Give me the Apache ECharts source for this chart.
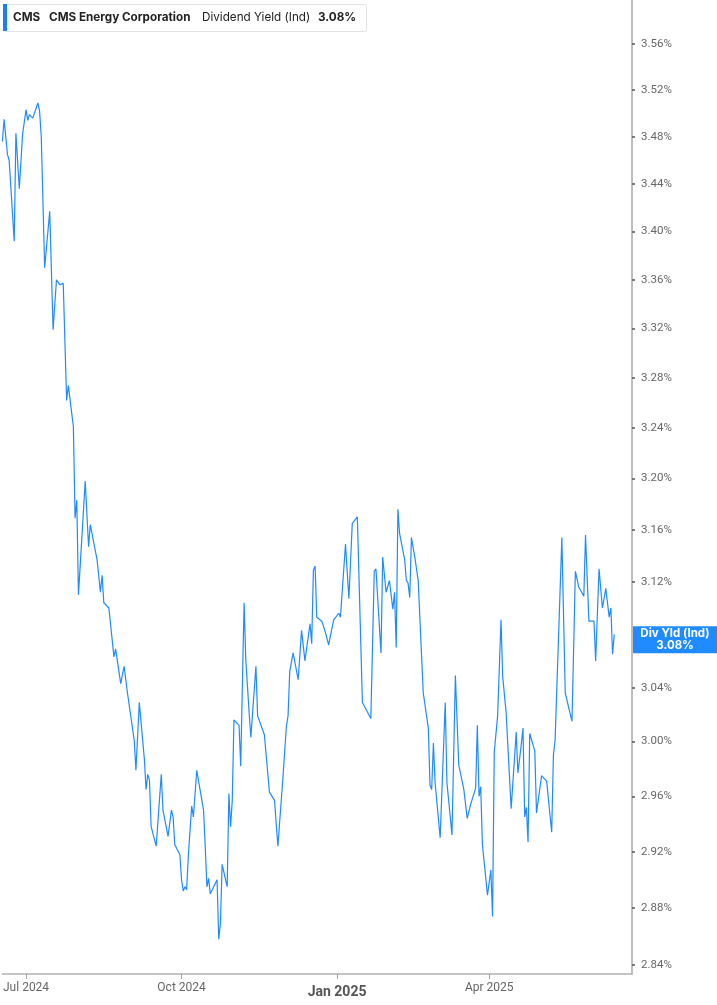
<!DOCTYPE html>
<html><head><meta charset="utf-8">
<script src="https://cdn.jsdelivr.net/npm/echarts@6.0.0/dist/echarts.min.js"></script>
<style>html,body{margin:0;padding:0;background:#fff}#c{width:717px;height:1005px}</style>
</head><body><div id="c"></div>
<script>
const ticker = 'CMS';
const company = 'CMS Energy Corporation';
const metric = 'Dividend Yield (Ind)';
const metricShort = 'Div Yld (Ind)';

const dates = [
'2024-06-17','2024-06-18','2024-06-20','2024-06-21','2024-06-24','2024-06-25','2024-06-27','2024-06-29',
'2024-07-01','2024-07-02','2024-07-03','2024-07-05','2024-07-08','2024-07-09','2024-07-10','2024-07-12',
'2024-07-15','2024-07-17','2024-07-19','2024-07-21','2024-07-23','2024-07-25','2024-07-26','2024-07-29',
'2024-07-30','2024-07-31','2024-08-01','2024-08-05','2024-08-07','2024-08-08','2024-08-12','2024-08-14',
'2024-08-15','2024-08-16','2024-08-19','2024-08-22','2024-08-23','2024-08-26','2024-08-28','2024-08-30',
'2024-09-03','2024-09-04','2024-09-06','2024-09-09','2024-09-10','2024-09-11','2024-09-12','2024-09-13',
'2024-09-16','2024-09-19','2024-09-20','2024-09-23','2024-09-25','2024-09-26','2024-09-27','2024-09-30',
'2024-10-01','2024-10-02','2024-10-03','2024-10-04','2024-10-05','2024-10-07','2024-10-08','2024-10-10',
'2024-10-14','2024-10-15','2024-10-16','2024-10-17','2024-10-18','2024-10-22','2024-10-23','2024-10-24',
'2024-10-25','2024-10-28','2024-10-29','2024-10-30','2024-10-31','2024-11-01','2024-11-04','2024-11-05',
'2024-11-07','2024-11-08','2024-11-10','2024-11-11','2024-11-14','2024-11-15','2024-11-19','2024-11-20',
'2024-11-21','2024-11-22','2024-11-25','2024-11-27','2024-11-28','2024-11-30','2024-12-02','2024-12-03',
'2024-12-04','2024-12-06','2024-12-09','2024-12-10','2024-12-11','2024-12-13','2024-12-16','2024-12-17',
'2024-12-18','2024-12-19','2024-12-20','2024-12-23','2024-12-25','2024-12-27','2024-12-30','2024-12-31',
'2025-01-02','2025-01-03','2025-01-06','2025-01-08','2025-01-10','2025-01-13','2025-01-16','2025-01-21',
'2025-01-23','2025-01-24','2025-01-27','2025-01-28','2025-01-30','2025-02-01','2025-02-03','2025-02-04',
'2025-02-05','2025-02-06','2025-02-07','2025-02-10','2025-02-11','2025-02-12','2025-02-13','2025-02-14',
'2025-02-16','2025-02-18','2025-02-21','2025-02-24','2025-02-25','2025-02-26','2025-02-27','2025-02-28',
'2025-03-03','2025-03-06','2025-03-07','2025-03-10','2025-03-12','2025-03-14','2025-03-17','2025-03-19',
'2025-03-20','2025-03-21','2025-03-24','2025-03-25','2025-03-26','2025-03-27','2025-03-28','2025-03-31',
'2025-04-01','2025-04-02','2025-04-03','2025-04-04','2025-04-06','2025-04-08','2025-04-09','2025-04-11',
'2025-04-14','2025-04-17','2025-04-18','2025-04-20','2025-04-21','2025-04-22','2025-04-23','2025-04-24',
'2025-04-25','2025-04-28','2025-04-29','2025-04-30','2025-05-02','2025-05-05','2025-05-08','2025-05-09',
'2025-05-10','2025-05-14','2025-05-16','2025-05-20','2025-05-21','2025-05-22','2025-05-24','2025-05-27',
'2025-05-28','2025-05-30','2025-06-02','2025-06-03','2025-06-05','2025-06-07','2025-06-09','2025-06-11',
'2025-06-12','2025-06-13','2025-06-14'
];

const yieldPct = [
3.476,3.495,3.465,3.460,3.392,3.483,3.436,3.483,
3.503,3.494,3.499,3.496,3.509,3.502,3.480,3.370,
3.417,3.319,3.360,3.356,3.357,3.262,3.274,3.241,
3.169,3.183,3.110,3.198,3.147,3.164,3.137,3.112,
3.125,3.104,3.100,3.063,3.069,3.043,3.056,3.036,
3.001,2.979,3.029,2.987,2.965,2.976,2.972,2.938,
2.924,2.976,2.950,2.931,2.950,2.945,2.925,2.918,
2.900,2.892,2.895,2.893,2.917,2.953,2.945,2.979,
2.950,2.924,2.895,2.901,2.890,2.900,2.858,2.869,
2.911,2.895,2.962,2.938,2.957,3.016,3.012,2.982,
3.104,3.061,3.021,3.003,3.056,3.019,3.005,3.006,
2.977,2.963,2.957,2.924,2.923,2.974,3.011,3.019,
3.052,3.066,3.046,3.045,3.083,3.060,3.088,3.073,
3.129,3.132,3.093,3.090,3.082,3.072,3.091,3.090,
3.096,3.093,3.149,3.107,3.165,3.170,3.029,3.017,
3.128,3.130,3.066,3.139,3.112,3.121,3.099,3.112,
3.070,3.176,3.157,3.137,3.121,3.119,3.108,3.154,
3.139,3.121,3.036,3.010,2.968,2.965,2.999,2.970,
2.930,3.029,2.970,2.932,3.049,2.983,2.965,2.944,
2.945,2.954,2.966,3.012,2.960,2.967,2.925,2.889,
2.888,2.907,2.874,2.992,3.019,3.091,3.048,3.022,
2.951,3.007,2.977,2.998,3.010,2.945,2.952,2.927,
3.006,2.993,2.948,2.947,2.975,2.971,2.934,2.990,
3.001,3.154,3.036,3.015,3.016,3.128,3.116,3.109,
3.156,3.090,3.090,3.060,3.130,3.100,3.115,3.093,
3.100,3.065,3.080
];

const yTickLabels = [2.84,2.88,2.92,2.96,3.00,3.04,3.12,3.16,3.20,3.24,3.28,3.32,3.36,3.40,3.44,3.48,3.52,3.56];
const xTickDates = ['2024-07-01','2024-10-01','2025-01-01','2025-04-01'];
const xRange = ['2024-06-17T00:00:00Z', '2025-06-24T12:00:00Z'];
const yRange = [2.8337, 3.5988];

const monthNames = ['Jan','Feb','Mar','Apr','May','Jun','Jul','Aug','Sep','Oct','Nov','Dec'];
const lineColor = '#1f8bff';
const lastVal = yieldPct[yieldPct.length - 1];
const lastStr = lastVal.toFixed(2) + '%';

const toMs = s => Date.parse(s.length === 10 ? s + 'T00:00:00Z' : s);

const chart = echarts.init(document.getElementById('c'), null, {renderer: 'canvas'});
const seriesData = dates.map((d, i) => [toMs(d), Math.log(yieldPct[i])]);
const xTickMs = xTickDates.map(toMs);
const yTickLn = yTickLabels.map(v => Math.log(v));

const option = {
  animation: false,
  backgroundColor: '#fff',
  grid: {left: 0, right: 85, top: 0, bottom: 31, containLabel: false},
  xAxis: {
    type: 'value',
    min: toMs(xRange[0]),
    max: toMs(xRange[1]),
    splitLine: {show: false},
    axisLine: {show: true, onZero: false, symbol: 'none', lineStyle: {color: '#b3b3b3', width: 1.5}},
    axisTick: {show: true, customValues: xTickMs, length: 5, lineStyle: {color: '#a0a0a0', width: 1}},
    axisLabel: {
      customValues: xTickMs,
      showMinLabel: true,
      showMaxLabel: true,
      margin: 8,
      hideOverlap: false,
      color: '#666',
      fontFamily: 'Roboto',
      fontSize: 12,
      formatter: function (val) {
        const d = new Date(val);
        const m = d.getUTCMonth();
        const s = monthNames[m] + ' ' + d.getUTCFullYear();
        return m === 0 ? '{j|' + s + '}' : s;
      },
      rich: {
        j: {fontFamily: 'Roboto', fontSize: 14, fontWeight: 'bold', color: '#555', padding: [3, 0, 0, 0]}
      }
    }
  },
  yAxis: {
    type: 'value',
    position: 'right',
    min: Math.log(yRange[0]),
    max: Math.log(yRange[1]),
    splitLine: {show: false},
    axisLine: {show: true, onZero: false, lineStyle: {color: '#a8a8a8', width: 1.5}},
    axisTick: {show: true, customValues: yTickLn, length: 3, lineStyle: {color: '#555', width: 1.5}},
    axisLabel: {
      customValues: yTickLn,
      margin: 9,
      color: '#666',
      fontFamily: 'Roboto',
      fontSize: 11.5,
      formatter: function (v) { return Math.exp(v).toFixed(2) + '%'; }
    }
  },
  series: [{
    type: 'line',
    data: seriesData,
    symbol: 'none',
    clip: true,
    lineStyle: {color: lineColor, width: 1.2},
    z: 3
  }],
  graphic: [
    {type: 'rect', id: 'hdrBox', left: 3, top: 4, shape: {width: 363, height: 27, r: 2},
     style: {fill: '#fff', stroke: '#e2e2e2', lineWidth: 1}, z: 10},
    {type: 'rect', id: 'hdrBar', left: 3, top: 4, shape: {width: 4, height: 27},
     style: {fill: '#1a7fff'}, z: 11},
    {type: 'text', id: 'h1', left: 13, top: 11, z: 12,
     style: {text: ticker, font: 'bold 11.7px Inter', fill: '#222'}},
    {type: 'text', id: 'h2', left: 49, top: 11, z: 12,
     style: {text: company, font: 'bold 11.7px Inter', fill: '#222'}},
    {type: 'text', id: 'h3', left: 202, top: 11, z: 12,
     style: {text: metric, font: '11.7px Inter', fill: '#222'}},
    {type: 'text', id: 'h4', left: 318, top: 11, z: 12,
     style: {text: lastStr, font: 'bold 11.7px Inter', fill: '#222'}}
  ]
};
chart.setOption(option);

// Cover the stray first-tick artefact left of the first label by keeping the axis area clean
const pt = chart.convertToPixel({seriesIndex: 0}, seriesData[seriesData.length - 1]);
const gridRight = chart.convertToPixel({xAxisIndex: 0}, toMs(xRange[1]));
chart.setOption({
  graphic: [
    {type: 'rect', id: 'lastBox', x: gridRight + 1, y: pt[1] - 8, shape: {width: 717 - gridRight - 1, height: 27},
     style: {fill: lineColor}, z: 20},
    {type: 'text', id: 'lastTxt', x: gridRight + 1 + (717 - gridRight - 1) / 2, y: pt[1] + 5.5, z: 21,
     style: {text: metricShort + '\n' + lastStr, font: 'bold 11.5px Inter', fill: '#fff', align: 'center', verticalAlign: 'middle', lineHeight: 12}}
  ]
});
</script>
</body></html>
